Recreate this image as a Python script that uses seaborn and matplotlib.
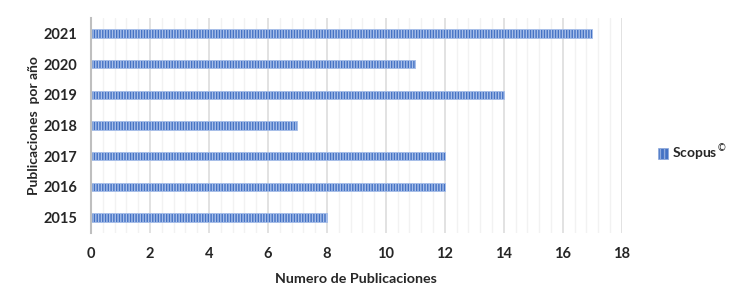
import matplotlib
matplotlib.use("Agg")
import matplotlib.pyplot as plt
import seaborn as sns
import pandas as pd
from matplotlib.ticker import MultipleLocator
from matplotlib.patches import Patch

years = ["2021", "2020", "2019", "2018", "2017", "2016", "2015"]
counts = [17, 11, 14, 7, 12, 12, 8]
series_name = "Scopus"

df = pd.DataFrame({"Año": years, "Publicaciones": counts})

sns.set_theme(style="white")
plt.rcParams['font.family'] = ['Lato', 'DejaVu Sans']

fig = plt.figure(figsize=(7.35, 3.06), dpi=100)
ax = fig.add_axes([0.1238, 0.239, 0.846 - 0.1238, 0.941 - 0.239])

sns.barplot(data=df, x="Publicaciones", y="Año", orient="h", ax=ax,
            color="#4472C4", width=0.27, saturation=1, order=years)
for bar in ax.patches:
    bar.set_hatch("||||||")
    bar.set_edgecolor("#A9C0EA")
    bar.set_linewidth(0.6)

ax.set_xlim(0, 18)
ax.set_ylim(6.5, -0.5)
ax.xaxis.set_major_locator(MultipleLocator(2))
ax.xaxis.set_minor_locator(MultipleLocator(0.4))
ax.grid(axis="x", which="major", color="#DDDDDD", linewidth=1.2)
ax.grid(axis="x", which="minor", color="#F2F2F2", linewidth=1.0)
ax.set_axisbelow(True)
for s in ["top", "right", "bottom"]:
    ax.spines[s].set_visible(False)
ax.spines["left"].set_color("#BFBFBF")
ax.spines["left"].set_linewidth(1.5)
ax.tick_params(axis="both", length=0, labelsize=10.5, labelcolor="#262626")
ax.tick_params(axis="x", pad=10)
ax.tick_params(axis="y", pad=10)
for lbl in ax.get_xticklabels() + ax.get_yticklabels():
    lbl.set_fontweight("bold")

ax.set_xlabel("Numero de Publicaciones", fontsize=10.3, fontweight="bold",
              color="#262626", labelpad=9)
ax.set_ylabel("Publicaciones  por año", fontsize=10, fontweight="bold",
              color="#262626", labelpad=2)

handle = Patch(facecolor="#4472C4", edgecolor="#8FAADC", hatch="||||", linewidth=0.5)
fig.legend([handle], [series_name + "$^{©}$"], loc="center left",
           bbox_to_anchor=(0.878, 0.50), frameon=False,
           prop={"weight": "bold", "size": 10}, handlelength=0.7,
           handleheight=0.9, handletextpad=0.3, labelcolor="#262626")

fig.savefig("out.png", dpi=100)
